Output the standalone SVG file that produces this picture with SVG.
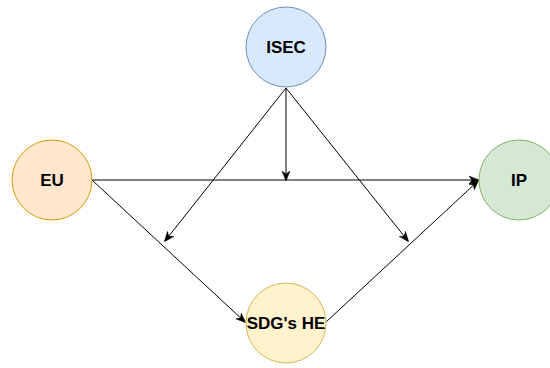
<svg xmlns="http://www.w3.org/2000/svg" width="550" height="368" viewBox="0 0 550 368">
  <style>
    .lbl { font-family: "Liberation Sans", Arial, sans-serif; font-size: 17px; font-weight: bold; fill: #000; text-anchor: middle; dominant-baseline: central; }
    .edge { stroke: #000; stroke-width: 1; fill: none; marker-end: url(#arrow); }
  </style>
  <defs>
    <marker id="arrow" viewBox="0 0 10 10" refX="9" refY="5" markerWidth="10" markerHeight="10" markerUnits="userSpaceOnUse" orient="auto">
      <path d="M0,1 L10,5 L0,9 L3,5 Z" fill="#000" stroke="#000" stroke-width="0.5"/>
    </marker>
  </defs>
  <rect width="550" height="368" fill="#fff"/>

  <g id="connectors">
    <line class="edge" x1="92" y1="180" x2="478" y2="180"/>
    <line class="edge" x1="286" y1="88" x2="286" y2="180"/>
    <line class="edge" x1="286" y1="88" x2="165" y2="241"/>
    <line class="edge" x1="286" y1="88" x2="408" y2="241"/>
    <line class="edge" x1="92" y1="180" x2="245" y2="322"/>
    <line class="edge" x1="326" y1="322" x2="478" y2="181"/>
  </g>

  <g id="isec">
    <circle cx="286" cy="47" r="40" fill="#dae8fc" stroke="#6c8ebf"/>
    <text class="lbl" x="286" y="47">ISEC</text>
  </g>
  <g id="eu">
    <circle cx="52" cy="180" r="40" fill="#ffe6cc" stroke="#d79b00"/>
    <text class="lbl" x="52" y="180">EU</text>
  </g>
  <g id="ip">
    <circle cx="519" cy="180" r="40" fill="#d5e8d4" stroke="#82b366"/>
    <text class="lbl" x="519" y="180">IP</text>
  </g>
  <g id="sdg">
    <circle cx="286" cy="323" r="40" fill="#fff2cc" stroke="#d6b656"/>
    <text class="lbl" x="286" y="323">SDG's HE</text>
  </g>
</svg>
